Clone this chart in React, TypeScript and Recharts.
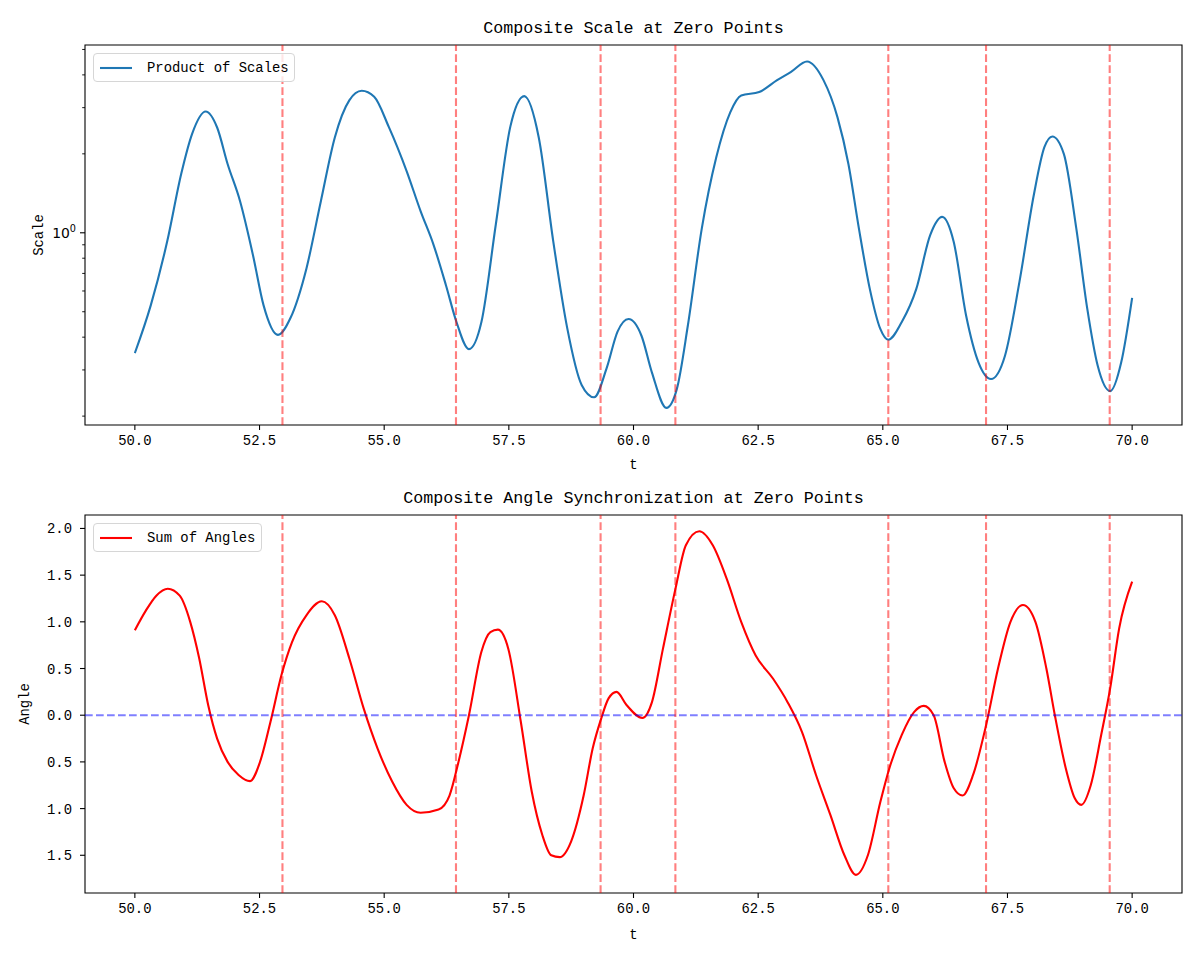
import { LineChart, Line, XAxis, YAxis, ReferenceLine, ReferenceArea, Legend } from 'recharts';

const FONT = '"Liberation Mono", "DejaVu Sans Mono", monospace';

// t positions read for the top (scale) panel
const scaleT = [
  50, 50.32, 50.65, 50.93, 51.15, 51.42, 51.65, 51.86, 52.11, 52.37,
  52.58, 52.87, 53.12, 53.44, 53.73, 54.01, 54.3, 54.55, 54.8, 55.09,
  55.45, 55.73, 55.99, 56.24, 56.45, 56.7, 56.95, 57.24, 57.53, 57.81,
  58.1, 58.39, 58.67, 58.96, 59.21, 59.46, 59.68, 59.9, 60.16, 60.37,
  60.66, 60.87, 61.09, 61.37, 61.66, 61.94, 62.16, 62.52, 62.88, 63.16,
  63.48, 63.81, 64.09, 64.31, 64.52, 64.74, 64.95, 65.11, 65.38, 65.67,
  65.95, 66.19, 66.42, 66.67, 66.92, 67.17, 67.45, 67.74, 68.03, 68.24,
  68.4, 68.63, 68.88, 69.1, 69.31, 69.56, 69.78, 70,
];
const scaleVal = [
  0.348, 0.53, 0.93, 1.68, 2.39, 2.9, 2.52, 1.83, 1.32, 0.82,
  0.53, 0.408, 0.473, 0.73, 1.32, 2.31, 3.2, 3.48, 3.3, 2.54,
  1.72, 1.21, 0.9, 0.63, 0.457, 0.36, 0.457, 1.08, 2.54, 3.32,
  2.31, 0.93, 0.434, 0.263, 0.236, 0.304, 0.42, 0.469, 0.405, 0.293,
  0.215, 0.254, 0.443, 1.04, 1.94, 2.88, 3.34, 3.44, 3.82, 4.11,
  4.5, 3.82, 2.76, 1.83, 1.04, 0.61, 0.43, 0.391, 0.457, 0.61,
  0.98, 1.15, 0.927, 0.484, 0.32, 0.277, 0.34, 0.65, 1.4, 2.12,
  2.33, 2.0, 1.04, 0.514, 0.311, 0.249, 0.32, 0.565,
];

// t positions read for the bottom (angle) panel
const angleT = [
  50, 50.22, 50.43, 50.66, 50.9, 51.11, 51.29, 51.47, 51.65, 51.86,
  52.08, 52.31, 52.51, 52.72, 52.94, 53.15, 53.44, 53.75, 54.01, 54.3,
  54.59, 54.87, 55.16, 55.45, 55.73, 56.09, 56.31, 56.49, 56.7, 56.95,
  57.13, 57.28, 57.49, 57.74, 57.96, 58.17, 58.35, 58.52, 58.75, 59.0,
  59.18, 59.35, 59.5, 59.66, 59.86, 60.18, 60.37, 60.59, 60.84, 61.05,
  61.32, 61.59, 61.87, 62.16, 62.45, 62.8, 63.09, 63.38, 63.66, 63.95,
  64.23, 64.46, 64.7, 64.95, 65.13, 65.38, 65.63, 65.82, 66.02, 66.24,
  66.42, 66.6, 66.81, 67.07, 67.31, 67.56, 67.81, 68.06, 68.28, 68.45,
  68.67, 68.85, 68.98, 69.17, 69.38, 69.56, 69.74, 70,
];
const angleVal = [
  0.91, 1.12, 1.28, 1.355, 1.28, 1.0, 0.61, 0.11, -0.25, -0.5,
  -0.64, -0.706, -0.5, -0.07, 0.43, 0.78, 1.07, 1.22, 1.07, 0.61,
  0.07, -0.36, -0.71, -0.96, -1.045, -1.01, -0.86, -0.5, 0.0, 0.68,
  0.89, 0.916, 0.71, -0.07, -0.82, -1.28, -1.5, -1.52, -1.35, -0.86,
  -0.36, -0.04, 0.18, 0.25, 0.11, -0.03, 0.14, 0.71, 1.35, 1.82,
  1.97, 1.82, 1.46, 1.0, 0.64, 0.39, 0.14, -0.18, -0.64, -1.07,
  -1.5, -1.71, -1.5, -0.93, -0.57, -0.21, 0.036, 0.1, 0.0, -0.5,
  -0.78, -0.86, -0.64, -0.11, 0.5, 1.0, 1.18, 1.0, 0.5, 0.0,
  -0.57, -0.89, -0.96, -0.75, -0.21, 0.29, 0.93, 1.43,
];

const zeroPoints = [52.96, 56.44, 59.34, 60.84, 65.11, 67.07, 69.55];

const xTicks = [50, 52.5, 55, 57.5, 60, 62.5, 65, 67.5, 70];
const logTicks = [0.2, 0.3, 0.4, 0.5, 0.6, 0.7, 0.8, 0.9, 1, 2, 3, 4, 5];
const angleTicks = [-1.5, -1.0, -0.5, 0, 0.5, 1.0, 1.5, 2.0];

const X_DOMAIN: [number, number] = [49, 71];
const SCALE_DOMAIN: [number, number] = [0.185, 5.2];
const ANGLE_DOMAIN: [number, number] = [-1.904, 2.144];

const scaleData = scaleT.map((t, i) => ({ t, value: scaleVal[i] }));
const angleData = angleT.map((t, i) => ({ t, value: angleVal[i] }));

const XTick = (props: any) => {
  const { x, y, payload } = props;
  return (
    <g>
      <line x1={x} y1={y} x2={x} y2={y + 5} stroke="#000" strokeWidth={1.1} />
      <text x={x} y={y + 20} textAnchor="middle" fontSize={13.9} fontFamily={FONT} fill="#000">
        {payload.value.toFixed(1)}
      </text>
    </g>
  );
};

const LogTick = (props: any) => {
  const { x, y, payload } = props;
  const major = payload.value === 1;
  return (
    <g>
      <line x1={x - (major ? 5 : 2.8)} y1={y} x2={x} y2={y} stroke="#000" strokeWidth={major ? 1.1 : 0.9} />
      {major && (
        <text x={x - 9} y={y + 5} textAnchor="end" fontSize={13.9} fontFamily="DejaVu Sans" fill="#000">
          10<tspan dy={-6} fontSize={9.7}>0</tspan>
        </text>
      )}
    </g>
  );
};

// the reference font has no minus glyph, so negatives show bare
const AngleTick = (props: any) => {
  const { x, y, payload } = props;
  return (
    <g>
      <line x1={x - 5} y1={y} x2={x} y2={y} stroke="#000" strokeWidth={1.1} />
      <text x={x - 13} y={y + 5} textAnchor="end" fontSize={13.9} fontFamily={FONT} fill="#000">
        {Math.abs(payload.value).toFixed(1)}
      </text>
    </g>
  );
};

const LegendBox = ({ label, color, width }: { label: string; color: string; width: number }) => (
  <div
    style={{
      width,
      height: 29,
      boxSizing: 'border-box',
      border: '1px solid #d6d6d6',
      borderRadius: 4,
      background: 'rgba(255,255,255,0.8)',
      display: 'flex',
      alignItems: 'center',
      fontFamily: FONT,
      fontSize: 13.9,
      color: '#000',
    }}
  >
    <svg width={53} height={10} style={{ flexShrink: 0 }}>
      <line x1={6} x2={38} y1={5} y2={5} stroke={color} strokeWidth={2.1} />
    </svg>
    <span>{label}</span>
  </div>
);

const App = () => {
  return (
    <div style={{ position: 'absolute', left: 0, top: 0, width: 1200, height: 960, background: '#fff' }}>
      <div style={{ position: 'absolute', left: 0, top: 0 }}>
        <LineChart width={1200} height={480} data={scaleData} margin={{ top: 45, right: 18, bottom: 25, left: 25 }}>
          <XAxis
            dataKey="t"
            type="number"
            domain={X_DOMAIN}
            allowDataOverflow
            ticks={xTicks}
            interval={0}
            height={30}
            axisLine={false}
            tickLine={false}
            tickSize={0}
            tickMargin={0}
            tick={<XTick />}
          />
          <YAxis
            type="number"
            scale="log"
            domain={SCALE_DOMAIN}
            allowDataOverflow
            ticks={logTicks}
            interval={0}
            width={60}
            axisLine={false}
            tickLine={false}
            tickSize={0}
            tickMargin={0}
            tick={<LogTick />}
          />
          <ReferenceArea
            x1={X_DOMAIN[0]}
            x2={X_DOMAIN[1]}
            y1={SCALE_DOMAIN[0]}
            y2={SCALE_DOMAIN[1]}
            fill="none"
            fillOpacity={0}
            stroke="#000"
            strokeWidth={1.1}
          />
          <Line
            type="monotone"
            dataKey="value"
            name="Product of Scales"
            stroke="#1f77b4"
            strokeWidth={2.1}
            dot={false}
            isAnimationActive={false}
          />
          {zeroPoints.map((z) => (
            <ReferenceLine key={z} x={z} stroke="#ff0000" strokeOpacity={0.5} strokeWidth={2.1} strokeDasharray="7.7 3.3" />
          ))}
          <Legend
            layout="horizontal"
            verticalAlign="middle"
            align="center"
            wrapperStyle={{ left: 93, top: 53, width: 'auto' }}
            content={() => <LegendBox label="Product of Scales" color="#1f77b4" width={202} />}
          />
        </LineChart>
      </div>

      <div style={{ position: 'absolute', left: 0, top: 480 }}>
        <LineChart width={1200} height={480} data={angleData} margin={{ top: 35, right: 18, bottom: 37, left: 25 }}>
          <XAxis
            dataKey="t"
            type="number"
            domain={X_DOMAIN}
            allowDataOverflow
            ticks={xTicks}
            interval={0}
            height={30}
            axisLine={false}
            tickLine={false}
            tickSize={0}
            tickMargin={0}
            tick={<XTick />}
          />
          <YAxis
            type="number"
            domain={ANGLE_DOMAIN}
            allowDataOverflow
            ticks={angleTicks}
            interval={0}
            width={60}
            axisLine={false}
            tickLine={false}
            tickSize={0}
            tickMargin={0}
            tick={<AngleTick />}
          />
          <ReferenceArea
            x1={X_DOMAIN[0]}
            x2={X_DOMAIN[1]}
            y1={ANGLE_DOMAIN[0]}
            y2={ANGLE_DOMAIN[1]}
            fill="none"
            fillOpacity={0}
            stroke="#000"
            strokeWidth={1.1}
          />
          <Line
            type="monotone"
            dataKey="value"
            name="Sum of Angles"
            stroke="#ff0000"
            strokeWidth={2.1}
            dot={false}
            isAnimationActive={false}
          />
          <ReferenceLine y={0} stroke="#0000ff" strokeOpacity={0.5} strokeWidth={2.1} strokeDasharray="7.7 3.3" />
          {zeroPoints.map((z) => (
            <ReferenceLine key={z} x={z} stroke="#ff0000" strokeOpacity={0.5} strokeWidth={2.1} strokeDasharray="7.7 3.3" />
          ))}
          <Legend
            layout="horizontal"
            verticalAlign="middle"
            align="center"
            wrapperStyle={{ left: 93, top: 43, width: 'auto' }}
            content={() => <LegendBox label="Sum of Angles" color="#ff0000" width={169} />}
          />
        </LineChart>
      </div>

      <svg width={1200} height={960} style={{ position: 'absolute', left: 0, top: 0, pointerEvents: 'none' }}>
        <g fontFamily={FONT} fill="#000">
          <text x={633.5} y={33} textAnchor="middle" fontSize={16.7}>Composite Scale at Zero Points</text>
          <text x={633.5} y={469} textAnchor="middle" fontSize={13.9}>t</text>
          <text transform="translate(43,235) rotate(-90)" textAnchor="middle" fontSize={13.9}>Scale</text>
          <text x={633.5} y={503} textAnchor="middle" fontSize={16.7}>Composite Angle Synchronization at Zero Points</text>
          <text x={633.5} y={939} textAnchor="middle" fontSize={13.9}>t</text>
          <text transform="translate(29,704) rotate(-90)" textAnchor="middle" fontSize={13.9}>Angle</text>
        </g>
      </svg>
    </div>
  );
};

export default App;
